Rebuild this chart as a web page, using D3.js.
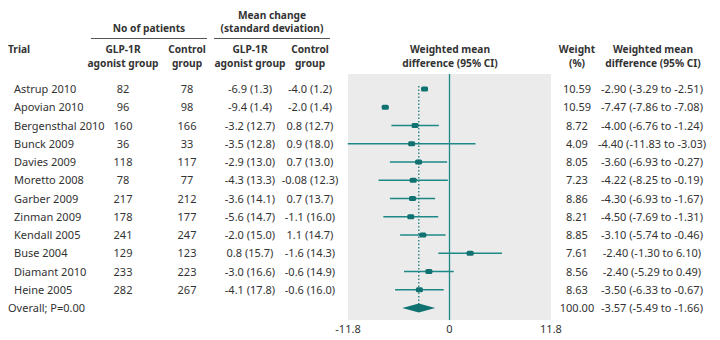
<!DOCTYPE html>
<html>
<head>
<meta charset="utf-8">
<script src="https://cdn.jsdelivr.net/npm/d3@7"></script>
<style>
  body { margin: 0; background: #fff; }
  svg text { font-family: "Noto Sans", sans-serif; fill: #333; }
  .hd { font-weight: bold; }
</style>
</head>
<body>
<script>
// table columns
var trials = ["Astrup 2010", "Apovian 2010", "Bergensthal 2010", "Bunck 2009", "Davies 2009",
  "Moretto 2008", "Garber 2009", "Zinman 2009", "Kendall 2005", "Buse 2004", "Diamant 2010", "Heine 2005"];
var nAgonist = [82, 96, 160, 36, 118, 78, 217, 178, 241, 129, 233, 282];
var nControl = [78, 98, 166, 33, 117, 77, 212, 177, 247, 123, 223, 267];
var meanAgonist = ["-6.9 (1.3)", "-9.4 (1.4)", "-3.2 (12.7)", "-3.5 (12.8)", "-2.9 (13.0)", "-4.3 (13.3)",
  "-3.6 (14.1)", "-5.6 (14.7)", "-2.0 (15.0)", "0.8 (15.7)", "-3.0 (16.6)", "-4.1 (17.8)"];
var meanControl = ["-4.0 (1.2)", "-2.0 (1.4)", "0.8 (12.7)", "0.9 (18.0)", "0.7 (13.0)", "-0.08 (12.3)",
  "0.7 (13.7)", "-1.1 (16.0)", "1.1 (14.7)", "-1.6 (14.3)", "-0.6 (14.9)", "-0.6 (16.0)"];
var weights = ["10.59", "10.59", "8.72", "4.09", "8.05", "7.23", "8.86", "8.21", "8.85", "7.61", "8.56", "8.63"];
var wmdLabels = ["-2.90 (-3.29 to -2.51)", "-7.47 (-7.86 to -7.08)", "-4.00 (-6.76 to -1.24)",
  "-4.40 (-11.83 to -3.03)", "-3.60 (-6.93 to -0.27)", "-4.22 (-8.25 to -0.19)", "-4.30 (-6.93 to -1.67)",
  "-4.50 (-7.69 to -1.31)", "-3.10 (-5.74 to -0.46)", "-2.40 (-1.30 to 6.10)", "-2.40 (-5.29 to 0.49)",
  "-3.50 (-6.33 to -0.67)"];

// plotted estimates (as drawn in the figure)
var est = [-2.90, -7.47, -4.00, -4.40, -3.60, -4.22, -4.30, -4.50, -3.10, 2.40, -2.40, -3.50];
var lo  = [-3.29, -7.86, -6.76, -11.83, -6.93, -8.25, -6.93, -7.69, -5.74, -1.30, -5.29, -6.33];
var hi  = [-2.51, -7.08, -1.24, 3.03, -0.27, -0.19, -1.67, -1.31, -0.46, 6.10, 0.49, -0.67];

var overallLabel = "Overall; P=0.00";
var overallWeight = "100.00";
var overallText = "-3.57 (-5.49 to -1.66)";
var overall = {est: -3.57, lo: -5.49, hi: -1.66};
var axisTicks = [-11.8, 0, 11.8];
var tickLabels = ["-11.8", "0", "11.8"];

var width = 720, height = 340;
var teal = "#1d8987", tealDark = "#0f7270";

var svg = d3.select("body").append("svg")
  .attr("width", width).attr("height", height);

var x = d3.scaleLinear().domain([-11.8, 11.8]).range([348, 551]);
var rows = d3.range(trials.length + 1);
var y = d3.scalePoint().domain(rows).range([89, 308]);

// panel
svg.append("rect")
  .attr("x", x(-11.8)).attr("y", 74)
  .attr("width", x(11.8) - x(-11.8)).attr("height", 246)
  .attr("fill", "#ebebeb");

// headers
function hd(tx, ty, s, anchor) {
  svg.append("text").attr("class", "hd")
    .attr("x", tx).attr("y", ty)
    .attr("text-anchor", anchor || "middle")
    .attr("font-size", 10.2)
    .text(s);
}
hd(272, 18.5, "Mean change");
hd(272, 32, "(standard deviation)");
hd(149, 32, "No of patients");
svg.append("line").attr("x1", 91).attr("x2", 207).attr("y1", 38.5).attr("y2", 38.5).attr("stroke", "#555");
svg.append("line").attr("x1", 214).attr("x2", 330).attr("y1", 38.5).attr("y2", 38.5).attr("stroke", "#555");
hd(8, 53, "Trial", "start");
hd(123, 53, "GLP-1R"); hd(123, 67, "agonist group");
hd(187, 53, "Control"); hd(187, 67, "group");
hd(250, 53, "GLP-1R"); hd(250, 67, "agonist group");
hd(310, 53, "Control"); hd(310, 67, "group");
hd(450, 53, "Weighted mean"); hd(450, 67, "difference (95% CI)");
hd(577, 53, "Weight"); hd(577, 67, "(%)");
hd(653, 53, "Weighted mean"); hd(653, 67, "difference (95% CI)");

// table body
var cols = [
  {vals: trials, x: 14, anchor: "start"},
  {vals: nAgonist, x: 123, anchor: "middle"},
  {vals: nControl, x: 187, anchor: "middle"},
  {vals: meanAgonist, x: 250, anchor: "middle"},
  {vals: meanControl, x: 310, anchor: "middle"},
  {vals: weights, x: 577, anchor: "middle"},
  {vals: wmdLabels, x: 652, anchor: "middle"}
];
cols.forEach(function(c) {
  svg.append("g").selectAll("text")
    .data(c.vals).enter().append("text")
    .attr("x", c.x)
    .attr("y", function(d, i) { return y(i) + 4; })
    .attr("text-anchor", c.anchor)
    .attr("font-size", 11)
    .text(function(d) { return d; });
});
var last = trials.length;
svg.append("text").attr("x", 8).attr("y", y(last) + 4).attr("font-size", 11).text(overallLabel);
svg.append("text").attr("x", 577).attr("y", y(last) + 4).attr("text-anchor", "middle").attr("font-size", 11).text(overallWeight);
svg.append("text").attr("x", 652).attr("y", y(last) + 4).attr("text-anchor", "middle").attr("font-size", 11).text(overallText);

// zero line and pooled estimate
svg.append("line")
  .attr("x1", x(0)).attr("x2", x(0)).attr("y1", 74).attr("y2", 320)
  .attr("stroke", teal).attr("stroke-width", 1.3);
svg.append("line")
  .attr("x1", x(overall.est)).attr("x2", x(overall.est))
  .attr("y1", y(0) - 3).attr("y2", y(last))
  .attr("stroke", tealDark).attr("stroke-width", 1.2)
  .attr("stroke-dasharray", "1.5,2");

// CIs
svg.append("g").selectAll("line")
  .data(est).enter().append("line")
  .attr("x1", function(d, i) { return x(lo[i]); })
  .attr("x2", function(d, i) { return x(hi[i]); })
  .attr("y1", function(d, i) { return y(i); })
  .attr("y2", function(d, i) { return y(i); })
  .attr("stroke", teal).attr("stroke-width", 1.3);

svg.append("g").selectAll("rect")
  .data(est).enter().append("rect")
  .attr("x", function(d) { return x(d) - 3.5; })
  .attr("y", function(d, i) { return y(i) - 2.5; })
  .attr("width", 7).attr("height", 5).attr("rx", 1.5)
  .attr("fill", tealDark);

// overall diamond
var yo = y(last);
svg.append("path")
  .attr("d", "M" + x(overall.lo) + "," + yo + "L" + x(overall.est) + "," + (yo - 4.5) +
    "L" + x(overall.hi) + "," + yo + "L" + x(overall.est) + "," + (yo + 4.5) + "Z")
  .attr("fill", tealDark);

// axis labels
svg.append("g").selectAll("text")
  .data(axisTicks).enter().append("text")
  .attr("x", function(d) { return x(d); })
  .attr("y", 333)
  .attr("text-anchor", "middle")
  .attr("font-size", 11)
  .text(function(d, i) { return tickLabels[i]; });
</script>
</body>
</html>
